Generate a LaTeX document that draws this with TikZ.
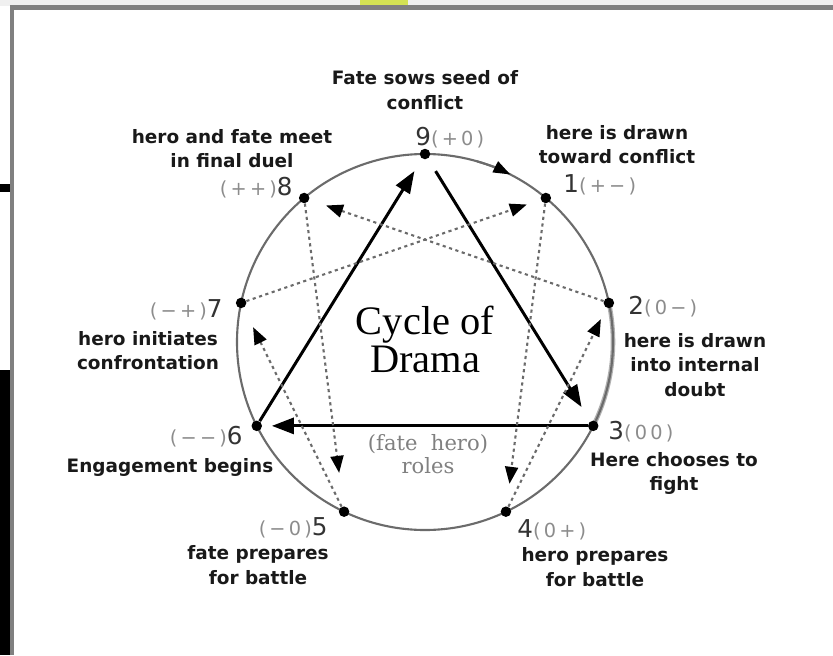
\documentclass[tikz,border=0pt]{standalone}
\usepackage{fontspec}
\setmainfont{DejaVu Sans}
\newfontfamily\titlefont{Liberation Serif}
\newfontfamily\rolefont{DejaVu Serif}
\usetikzlibrary{arrows.meta}

\definecolor{ringgray}{gray}{0.42}
\definecolor{signgray}{gray}{0.55}
\definecolor{framegray}{gray}{0.5}
\definecolor{tabyellow}{RGB}{212,226,84}

\tikzset{
  pt/.style={circle,fill=black,inner sep=0pt,minimum size=0.21cm},
  caption/.style={font=\bfseries\fontsize{10.5}{14}\selectfont,align=center,text=black!90,inner sep=0pt},
  numlabel/.style={font=\fontsize{11}{13}\selectfont,text=black!80,inner sep=0pt},
  major/.style={line width=1.7pt,-{Triangle[length=0.44cm,width=0.32cm]}},
  minor/.style={ringgray,line width=1.2pt,dash pattern=on 1.8pt off 2pt,
    -{Triangle[length=0.34cm,width=0.26cm,color=black]}},
}
\newcommand{\pnum}[1]{{\fontsize{14}{14}\selectfont #1}}
\newcommand{\sgn}[1]{{\color{signgray}(\,#1\,)}}

\begin{document}
\begin{tikzpicture}
\useasboundingbox (-8.5,-6.26) rectangle (8.16,6.84);
% what is left of the page round the frame
\fill[black!6] (-8.5,6.72) rectangle (8.16,6.84);
\fill[tabyellow] (-1.3,6.72) rectangle (-0.34,6.84);
\fill[black] (-8.5,-0.56) rectangle (-8.3,-6.26);
\fill[black] (-8.5,3.0) rectangle (-8.3,3.16);
\draw[framegray,line width=2.6pt] (-8.26,-6.26) -- (-8.26,6.69) -- (8.16,6.69);

% the ring
\draw[black!30,line width=2.6pt] (12:3.76) arc (12:-26.5:3.76);
\draw[ringgray,line width=1.2pt] (0,0) circle (3.76);
\draw[ringgray,line width=1.2pt,-{Triangle[length=0.34cm,width=0.24cm,color=black]}] (74:3.76) arc (74:63:3.76);

\node[pt] (p9) at (90:3.76) {};
\node[pt] (p1) at (50:3.76) {};
\node[pt] (p2) at (12:3.76) {};
\node[pt] (p3) at (-26.5:3.76) {};
\node[pt] (p4) at (-64.5:3.76) {};
\node[pt] (p5) at (-115.5:3.76) {};
\node[pt] (p6) at (-153.5:3.76) {};
\node[pt] (p7) at (168:3.76) {};
\node[pt] (p8) at (130:3.76) {};

% triangle
\draw[major,shorten >=0.29cm] (p6) -- (p9);
\draw[major,shorten <=0.29cm,shorten >=0.33cm] (p9) -- (p3);
\draw[major,shorten >=0.19cm] (p3) -- (p6);

% hexad
\draw[minor,shorten >=0.45cm] (p1) -- (p4);
\draw[minor,shorten >=0.25cm] (p4) -- (p2);
\draw[minor,shorten >=0.35cm] (p2) -- (p8);
\draw[minor,shorten >=0.67cm] (p8) -- (p5);
\draw[minor,shorten >=0.43cm] (p5) -- (p7);
\draw[minor,shorten >=0.29cm] (p7) -- (p1);

\node[font=\titlefont\fontsize{23}{22}\selectfont,align=center] (title) at (0,0.05) {Cycle of\\Drama};
\node[font=\rolefont\fontsize{12}{13}\selectfont,text=black!50,align=center] (roles) at (0.06,-2.24) {(fate\ \ hero)\\roles};

\node[numlabel,anchor=west] (n9) at (-0.2,4.08) {\pnum{9}\sgn{+\,0}};
\node[numlabel,anchor=west] (n1) at (2.76,3.14) {\pnum{1}\sgn{+\,−}};
\node[numlabel,anchor=west] (n2) at (4.06,0.7) {\pnum{2}\sgn{0\,−}};
\node[numlabel,anchor=west] (n3) at (3.66,-1.8) {\pnum{3}\sgn{0\,0}};
\node[numlabel,anchor=west] (n4) at (1.84,-3.76) {\pnum{4}\sgn{0\,+}};
\node[numlabel,anchor=east] (n5) at (-1.94,-3.72) {\sgn{−\,0}\pnum{5}};
\node[numlabel,anchor=east] (n6) at (-3.64,-1.9) {\sgn{−\,−}\pnum{6}};
\node[numlabel,anchor=east] (n7) at (-4.04,0.64) {\sgn{−\,+}\pnum{7}};
\node[numlabel,anchor=east] (n8) at (-2.64,3.08) {\sgn{+\,+}\pnum{8}};

\node[caption] (c9) at (0,5.04) {Fate sows seed of\\conflict};
\node[caption] (c1) at (3.84,3.95) {here is drawn\\toward conflict};
\node[caption] (c2) at (5.4,-0.46) {here is drawn\\into internal\\doubt};
\node[caption] (c3) at (4.98,-2.63) {Here chooses to\\fight};
\node[caption] (c4) at (3.4,-4.5) {hero prepares\\for battle};
\node[caption] (c5) at (-3.34,-4.46) {fate prepares\\for battle};
\node[caption] (c6) at (-5.1,-2.5) {Engagement begins};
\node[caption] (c7) at (-5.54,-0.17) {hero initiates\\confrontation};
\node[caption] (c8) at (-3.86,3.87) {hero and fate meet\\in final duel};
\end{tikzpicture}
\end{document}
